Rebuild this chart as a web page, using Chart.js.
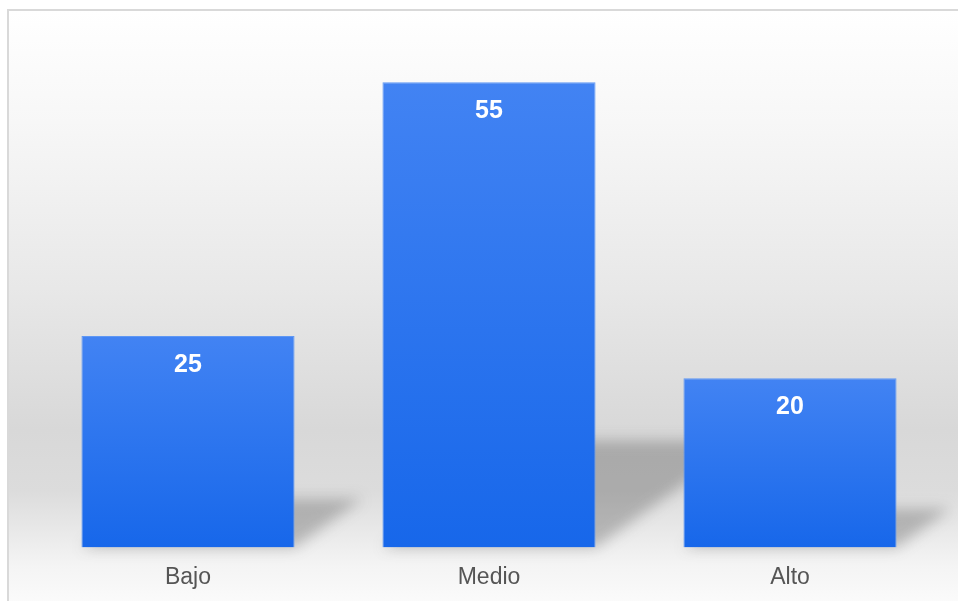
<!DOCTYPE html>
<html>
<head>
<meta charset="utf-8">
<script src="https://cdn.jsdelivr.net/npm/chart.js@4/dist/chart.umd.min.js"></script>
<style>
    html, body { margin: 0; padding: 0; background: #ffffff; }
    body { width: 958px; height: 601px; overflow: hidden; position: relative; }
    #frame {
        position: absolute; left: 7px; top: 9px; width: 980px; height: 620px;
        border: 2px solid #d9d9d9; box-sizing: border-box;
        background: linear-gradient(to bottom, #ffffff 0%, #f7f7f7 18%, #e8e8e8 45%, #d8d8d8 68%, #dcdcdc 78%, #f4f4f4 90%, #ffffff 100%);
    }
    #chart { position: absolute; left: 0; top: 0; }
</style>
</head>
<body>
<div id="frame"></div>
<canvas id="chart" width="958" height="621"></canvas>
<script>
// Data
const categories = ['Bajo', 'Medio', 'Alto'];
const values = [25, 55, 20];
const yMax = 60;

// Per-bar vertical gradient (lighter top, deeper bottom)
function barGradient(ctx) {
    const chart = ctx.chart;
    if (!chart.chartArea || ctx.raw === undefined) return '#2a73ee';
    const y = chart.scales.y;
    const top = y.getPixelForValue(ctx.raw);
    const bottom = y.getPixelForValue(0);
    const g = chart.ctx.createLinearGradient(0, top, 0, bottom);
    g.addColorStop(0, '#4283f3');
    g.addColorStop(1, '#1767ea');
    return g;
}

// Skewed floor shadow behind each bar
const floorShadow = {
    id: 'floorShadow',
    beforeDatasetsDraw(chart) {
        const c = chart.ctx;
        const meta = chart.getDatasetMeta(0);
        c.save();
        c.filter = 'blur(7px)';
        c.fillStyle = 'rgba(60, 60, 60, 0.3)';
        meta.data.forEach(bar => {
            const h = bar.base - bar.y;
            const left = bar.x - bar.width / 2;
            const right = bar.x + bar.width / 2;
            const sh = h * 0.23;
            const dx = h * 0.32;
            c.beginPath();
            c.moveTo(left, bar.base);
            c.lineTo(right, bar.base);
            c.lineTo(right + dx, bar.base - sh);
            c.lineTo(left + dx, bar.base - sh);
            c.closePath();
            c.fill();
        });
        c.restore();
    }
};

// Value labels inside the top of each bar
const valueLabels = {
    id: 'valueLabels',
    afterDatasetsDraw(chart) {
        const c = chart.ctx;
        const meta = chart.getDatasetMeta(0);
        c.save();
        c.font = 'bold 25px "Liberation Sans", Arial, sans-serif';
        c.fillStyle = '#ffffff';
        c.textAlign = 'center';
        c.textBaseline = 'middle';
        meta.data.forEach((bar, i) => {
            c.fillText(String(values[i]), bar.x, bar.y + 29);
        });
        c.restore();
    }
};

new Chart(document.getElementById('chart'), {
    type: 'bar',
    data: {
        labels: categories,
        datasets: [{
            data: values,
            backgroundColor: barGradient,
            borderColor: '#5f97f4',
            borderWidth: 1,
            categoryPercentage: 1,
            barPercentage: 0.708
        }]
    },
    options: {
        responsive: false,
        animation: false,
        devicePixelRatio: 1,
        layout: { padding: { left: 37.5, right: 17.5, top: 40, bottom: 14 } },
        plugins: {
            legend: { display: false },
            tooltip: { enabled: false }
        },
        scales: {
            x: {
                grid: { display: false, drawTicks: false },
                border: { display: false },
                ticks: {
                    color: '#555555',
                    padding: 16,
                    font: { family: '"Liberation Sans", Arial, sans-serif', size: 23 }
                }
            },
            y: {
                display: false,
                min: 0,
                max: yMax
            }
        }
    },
    plugins: [floorShadow, valueLabels]
});
</script>
</body>
</html>
